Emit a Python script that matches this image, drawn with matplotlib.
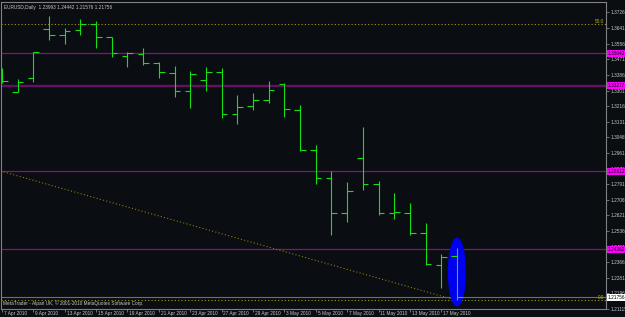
import matplotlib
matplotlib.use('Agg')
import matplotlib.pyplot as plt
import numpy as np
from matplotlib.patches import Ellipse
from matplotlib.transforms import ScaledTranslation, blended_transform_factory

plt.rcParams['font.family'] = ['Liberation Sans', 'DejaVu Sans']

# EURUSD daily bars, 7 Apr 2010 .. 18 May 2010
opens  = [1.33805, 1.32917, 1.33680, 1.36382, 1.36023, 1.36295, 1.36655, 1.35930, 1.34878, 1.34987,
          1.34513, 1.33985, 1.32988, 1.33571, 1.34023, 1.31718, 1.32154, 1.32514, 1.33386, 1.31953,
          1.29789, 1.28231, 1.26324, 1.29354, 1.27904, 1.26340, 1.26324, 1.25234, 1.23491, 1.23993]
highs  = [1.34241, 1.33658, 1.35129, 1.37074, 1.36420, 1.36927, 1.36818, 1.35946, 1.35096, 1.35347,
          1.34584, 1.34350, 1.34094, 1.34295, 1.34241, 1.32770, 1.32879, 1.33533, 1.33424, 1.32225,
          1.30029, 1.28629, 1.28013, 1.31010, 1.28068, 1.27430, 1.26869, 1.25779, 1.24106, 1.24442]
lows   = [1.33424, 1.32917, 1.33494, 1.35767, 1.35565, 1.36055, 1.35314, 1.34857, 1.34279, 1.34388,
          1.33696, 1.32677, 1.32078, 1.33004, 1.31500, 1.31190, 1.31936, 1.32318, 1.31587, 1.29719,
          1.27920, 1.25158, 1.25850, 1.27594, 1.26248, 1.26030, 1.25142, 1.23491, 1.22270, 1.21576]
closes = [1.33533, 1.33494, 1.35096, 1.36023, 1.36273, 1.36655, 1.35946, 1.35042, 1.35042, 1.34530,
          1.34023, 1.32971, 1.33914, 1.34023, 1.31718, 1.32100, 1.32514, 1.33026, 1.31991, 1.29757,
          1.28231, 1.26324, 1.27523, 1.27904, 1.26340, 1.26379, 1.25234, 1.23562, 1.23959, 1.21756]

date_labels = ['7 Apr 2010', '9 Apr 2010', '13 Apr 2010', '15 Apr 2010', '19 Apr 2010',
               '21 Apr 2010', '23 Apr 2010', '27 Apr 2010', '29 Apr 2010', '3 May 2010',
               '5 May 2010', '7 May 2010', '11 May 2010', '13 May 2010', '17 May 2010']
price_labels = ['1.37265', '1.36415', '1.35565', '1.34715', '1.33865', '1.33015', '1.32165',
                '1.31315', '1.30465', '1.29615', '1.28765', '1.27915', '1.27065', '1.26215',
                '1.25365', '1.24515', '1.23665', '1.22815', '1.21965', '1.21115']

magenta_levels = [1.35042, 1.33277, 1.28612, 1.24362]
magenta_widths = [0.9, 1.7, 0.9, 0.9]
magenta_colors = ['#860f86', '#631263', '#860f86', '#860f86']
fib_levels = [1.36622, 1.21576]
fib_names = ['50.0', '0.0']
trend_x = [-0.1, 29.0]
trend_y = [1.28630, 1.21576]
bid = 1.21756
title = 'EURUSD,Daily  1.23993 1.24442 1.21576 1.21756'

bg = '#0a0d11'
txt = '#c8c8c8'
fs = 3.4

fig = plt.figure(figsize=(6.25, 3.17), dpi=100, facecolor=bg)
ax = fig.add_axes([1.5 / 625, 7.8 / 317, 604.5 / 625, 307.7 / 317])
ax.set_facecolor(bg)
ax.set_xlim(-0.03, 38.5)
ax.set_ylim(1.21100, 1.37864)

# horizontal levels
for lv, w, c in zip(magenta_levels, magenta_widths, magenta_colors):
    ax.axhline(lv, color=c, lw=w, zorder=1)
for lv in fib_levels:
    ax.axhline(lv, color='#a89a10', lw=0.8, ls=(0, (1, 2)), zorder=1)
ax.plot(trend_x, trend_y, color='#8c7c12', lw=0.8, ls=(0, (1, 2)), zorder=1)
ax.axhline(bid, color='#6e6e6e', lw=0.8, zorder=1)

# highlight on last bar
ax.add_patch(Ellipse((29.0, 1.23126), 1.17, 0.0376, facecolor='#0000f0', edgecolor='none', zorder=2))

# OHLC bars
x = np.arange(len(opens))
bar_color = '#14e014'
ax.vlines(x, lows, highs, color=bar_color, lw=0.8, zorder=3)
ax.hlines(opens, x - 0.36, x, color=bar_color, lw=0.8, zorder=3)
ax.hlines(closes, x, x + 0.36, color=bar_color, lw=0.8, zorder=3)

# axes styling
for s in ax.spines.values():
    s.set_color('#808080')
    s.set_linewidth(0.8)

ax.yaxis.tick_right()
ax.set_yticks([float(p) for p in price_labels])
ax.set_yticklabels(price_labels)
ax.tick_params(axis='y', color='#9a9a9a', labelcolor=txt, labelsize=fs, length=2, width=0.5, pad=1)

ax.set_xticks(range(0, 29, 2))
ax.set_xticklabels(date_labels)
ax.tick_params(axis='x', color='#9a9a9a', labelcolor=txt, labelsize=fs, length=2.5, width=0.5, pad=-1.2)
for lab in ax.get_xticklabels():
    lab.set_ha('left')
    lab.set_transform(lab.get_transform() + ScaledTranslation(1.3 / 72, 0, fig.dpi_scale_trans))

# right-side price labels for the lines
tr = blended_transform_factory(ax.transAxes, ax.transData)
for lv in magenta_levels:
    ax.text(1.003, lv, '%.5f' % lv, transform=tr, fontsize=fs, color='#000000', va='center', ha='left',
            clip_on=False, zorder=6, bbox=dict(boxstyle='square,pad=0.2', fc='#ff00ff', ec='none'))
ax.text(1.003, bid, '%.5f' % bid, transform=tr, fontsize=fs, color='#000000', va='center', ha='left',
        clip_on=False, zorder=6, bbox=dict(boxstyle='square,pad=0.2', fc='#ffffff', ec='none'))
for lv, nm in zip(fib_levels, fib_names):
    ax.text(0.997, lv, nm, transform=tr, fontsize=fs, color='#b8b020', va='bottom', ha='right', zorder=5)

ax.text(0.004, 0.99, title, transform=ax.transAxes, fontsize=fs, color=txt, va='top', ha='left')
ax.text(0.003, 0.018, 'MetaTrader - Alpari UK, \u00a9 2001-2010 MetaQuotes Software Corp.',
        transform=ax.transAxes, fontsize=fs, color=txt, va='center', ha='left')

fig.savefig('out.png', dpi=100, facecolor=bg)
